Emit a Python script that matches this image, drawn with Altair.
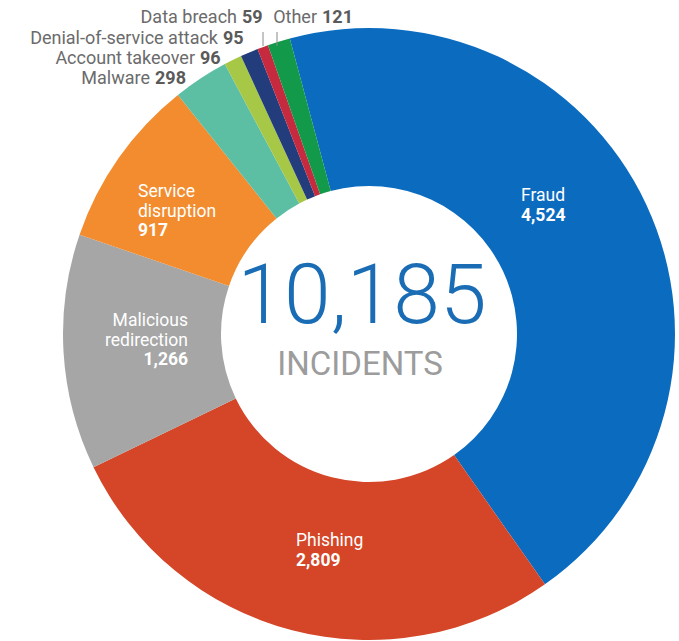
import math
import altair as alt
import pandas as pd

# ---- data ----
categories = ["Fraud", "Phishing", "Malicious redirection", "Service disruption",
              "Malware", "Account takeover", "Denial-of-service attack", "Data breach", "Other"]
values = [4524, 2809, 1266, 917, 298, 96, 95, 59, 121]
colors = ["#0b6cbf", "#d54527", "#a6a6a6", "#f28c2e", "#5cbfa4", "#a6c846",
          "#233c7c", "#c62a3e", "#13994a"]
center_label = "INCIDENTS"

# ---- layout (pixels) ----
CX, CY = 369, 334
R_OUT, R_IN = 306, 148
START = math.radians(-15)

# inside labels: lines of text, x, first baseline, align
inside_layout = {
    "Fraud": (["Fraud"], 521, 201, "left"),
    "Phishing": (["Phishing"], 296, 546, "left"),
    "Service disruption": (["Service", "disruption"], 138, 197, "left"),
    "Malicious redirection": (["Malicious", "redirection"], 188, 326, "right"),
}
INSIDE_LH = 19.5
# outside labels: name right edge x, value left x, baseline y
outside_layout = {
    "Data breach": (237, 242, 23),
    "Other": (317, 322, 23),
    "Denial-of-service attack": (218, 223, 44),
    "Account takeover": (195, 200, 64),
    "Malware": (150, 155, 84),
}
leaders = {"Data breach": (263, 32, 46), "Other": (277, 32, 46)}

df = pd.DataFrame({"category": categories, "value": values,
                   "idx": list(range(len(categories)))})

color_scale = alt.Scale(domain=categories, range=colors)

arcs = alt.Chart(df).mark_arc(radius=R_OUT, innerRadius=R_IN, stroke=None).encode(
    theta=alt.Theta("value:Q", stack=True,
                    scale=alt.Scale(range=[START, START + 2 * math.pi])),
    color=alt.Color("category:N", scale=color_scale, legend=None),
    order=alt.Order("idx:Q"),
    x=alt.value(CX), y=alt.value(CY),
)

# inside label rows
name_rows, val_rows = [], []
for cat, val in zip(categories, values):
    if cat in inside_layout:
        lines, px, py, al = inside_layout[cat]
        for i, ln in enumerate(lines):
            name_rows.append({"t": ln, "px": px, "py": py + i * INSIDE_LH, "al": al})
        val_rows.append({"t": f"{val:,}", "px": px, "py": py + len(lines) * INSIDE_LH, "al": al})

def inside_text(rows, align, weight):
    d = pd.DataFrame([r for r in rows if r["al"] == align])
    return alt.Chart(d).mark_text(align=align, baseline="alphabetic", font="Roboto",
                                  fontSize=17.5, fontWeight=weight, color="white").encode(
        x=alt.X("px:Q", scale=None), y=alt.Y("py:Q", scale=None), text="t:N")

inside_layers = [inside_text(name_rows, "left", 400), inside_text(name_rows, "right", 400),
                 inside_text(val_rows, "left", 700), inside_text(val_rows, "right", 700)]

# outside labels
out_names, out_vals = [], []
for cat, val in zip(categories, values):
    if cat in outside_layout:
        nx, vx, by = outside_layout[cat]
        out_names.append({"t": cat, "px": nx, "py": by})
        out_vals.append({"t": f"{val:,}", "px": vx, "py": by})

OUT_FS = 18
out_name_txt = alt.Chart(pd.DataFrame(out_names)).mark_text(
    align="right", baseline="alphabetic", font="Roboto", fontSize=OUT_FS, color="#6b6b6b").encode(
    x=alt.X("px:Q", scale=None), y=alt.Y("py:Q", scale=None), text="t:N")
out_val_txt = alt.Chart(pd.DataFrame(out_vals)).mark_text(
    align="left", baseline="alphabetic", font="Roboto", fontSize=OUT_FS, fontWeight=700,
    color="#5a5a5a").encode(
    x=alt.X("px:Q", scale=None), y=alt.Y("py:Q", scale=None), text="t:N")

lead_df = pd.DataFrame([{"px": v[0], "py": v[1], "py2": v[2]} for v in leaders.values()])
lead = alt.Chart(lead_df).mark_rule(color="#8a8a8a", strokeWidth=1).encode(
    x=alt.X("px:Q", scale=None), y=alt.Y("py:Q", scale=None), y2="py2:Q")

total_df = pd.DataFrame({"t": [f"{sum(values):,}"], "px": [362], "py": [323]})
total_txt = alt.Chart(total_df).mark_text(
    align="center", baseline="alphabetic", font="Roboto", fontSize=84, fontWeight=300,
    color="#1a6db5").encode(
    x=alt.X("px:Q", scale=None), y=alt.Y("py:Q", scale=None), text="t:N")

sub_df = pd.DataFrame({"t": [center_label], "px": [360], "py": [375]})
sub_txt = alt.Chart(sub_df).mark_text(
    align="center", baseline="alphabetic", font="Roboto", fontSize=33, fontWeight=400,
    color="#9c9c9c").encode(
    x=alt.X("px:Q", scale=None), y=alt.Y("py:Q", scale=None), text="t:N")

chart = alt.layer(arcs, *inside_layers, out_name_txt, out_val_txt, lead, total_txt, sub_txt).properties(
    width=679, height=641, autosize=alt.AutoSizeParams(type="none"), padding=0,
    background="white"
).configure_view(stroke=None)

chart.save("out.html", embed_options={"renderer": "svg", "actions": False})
